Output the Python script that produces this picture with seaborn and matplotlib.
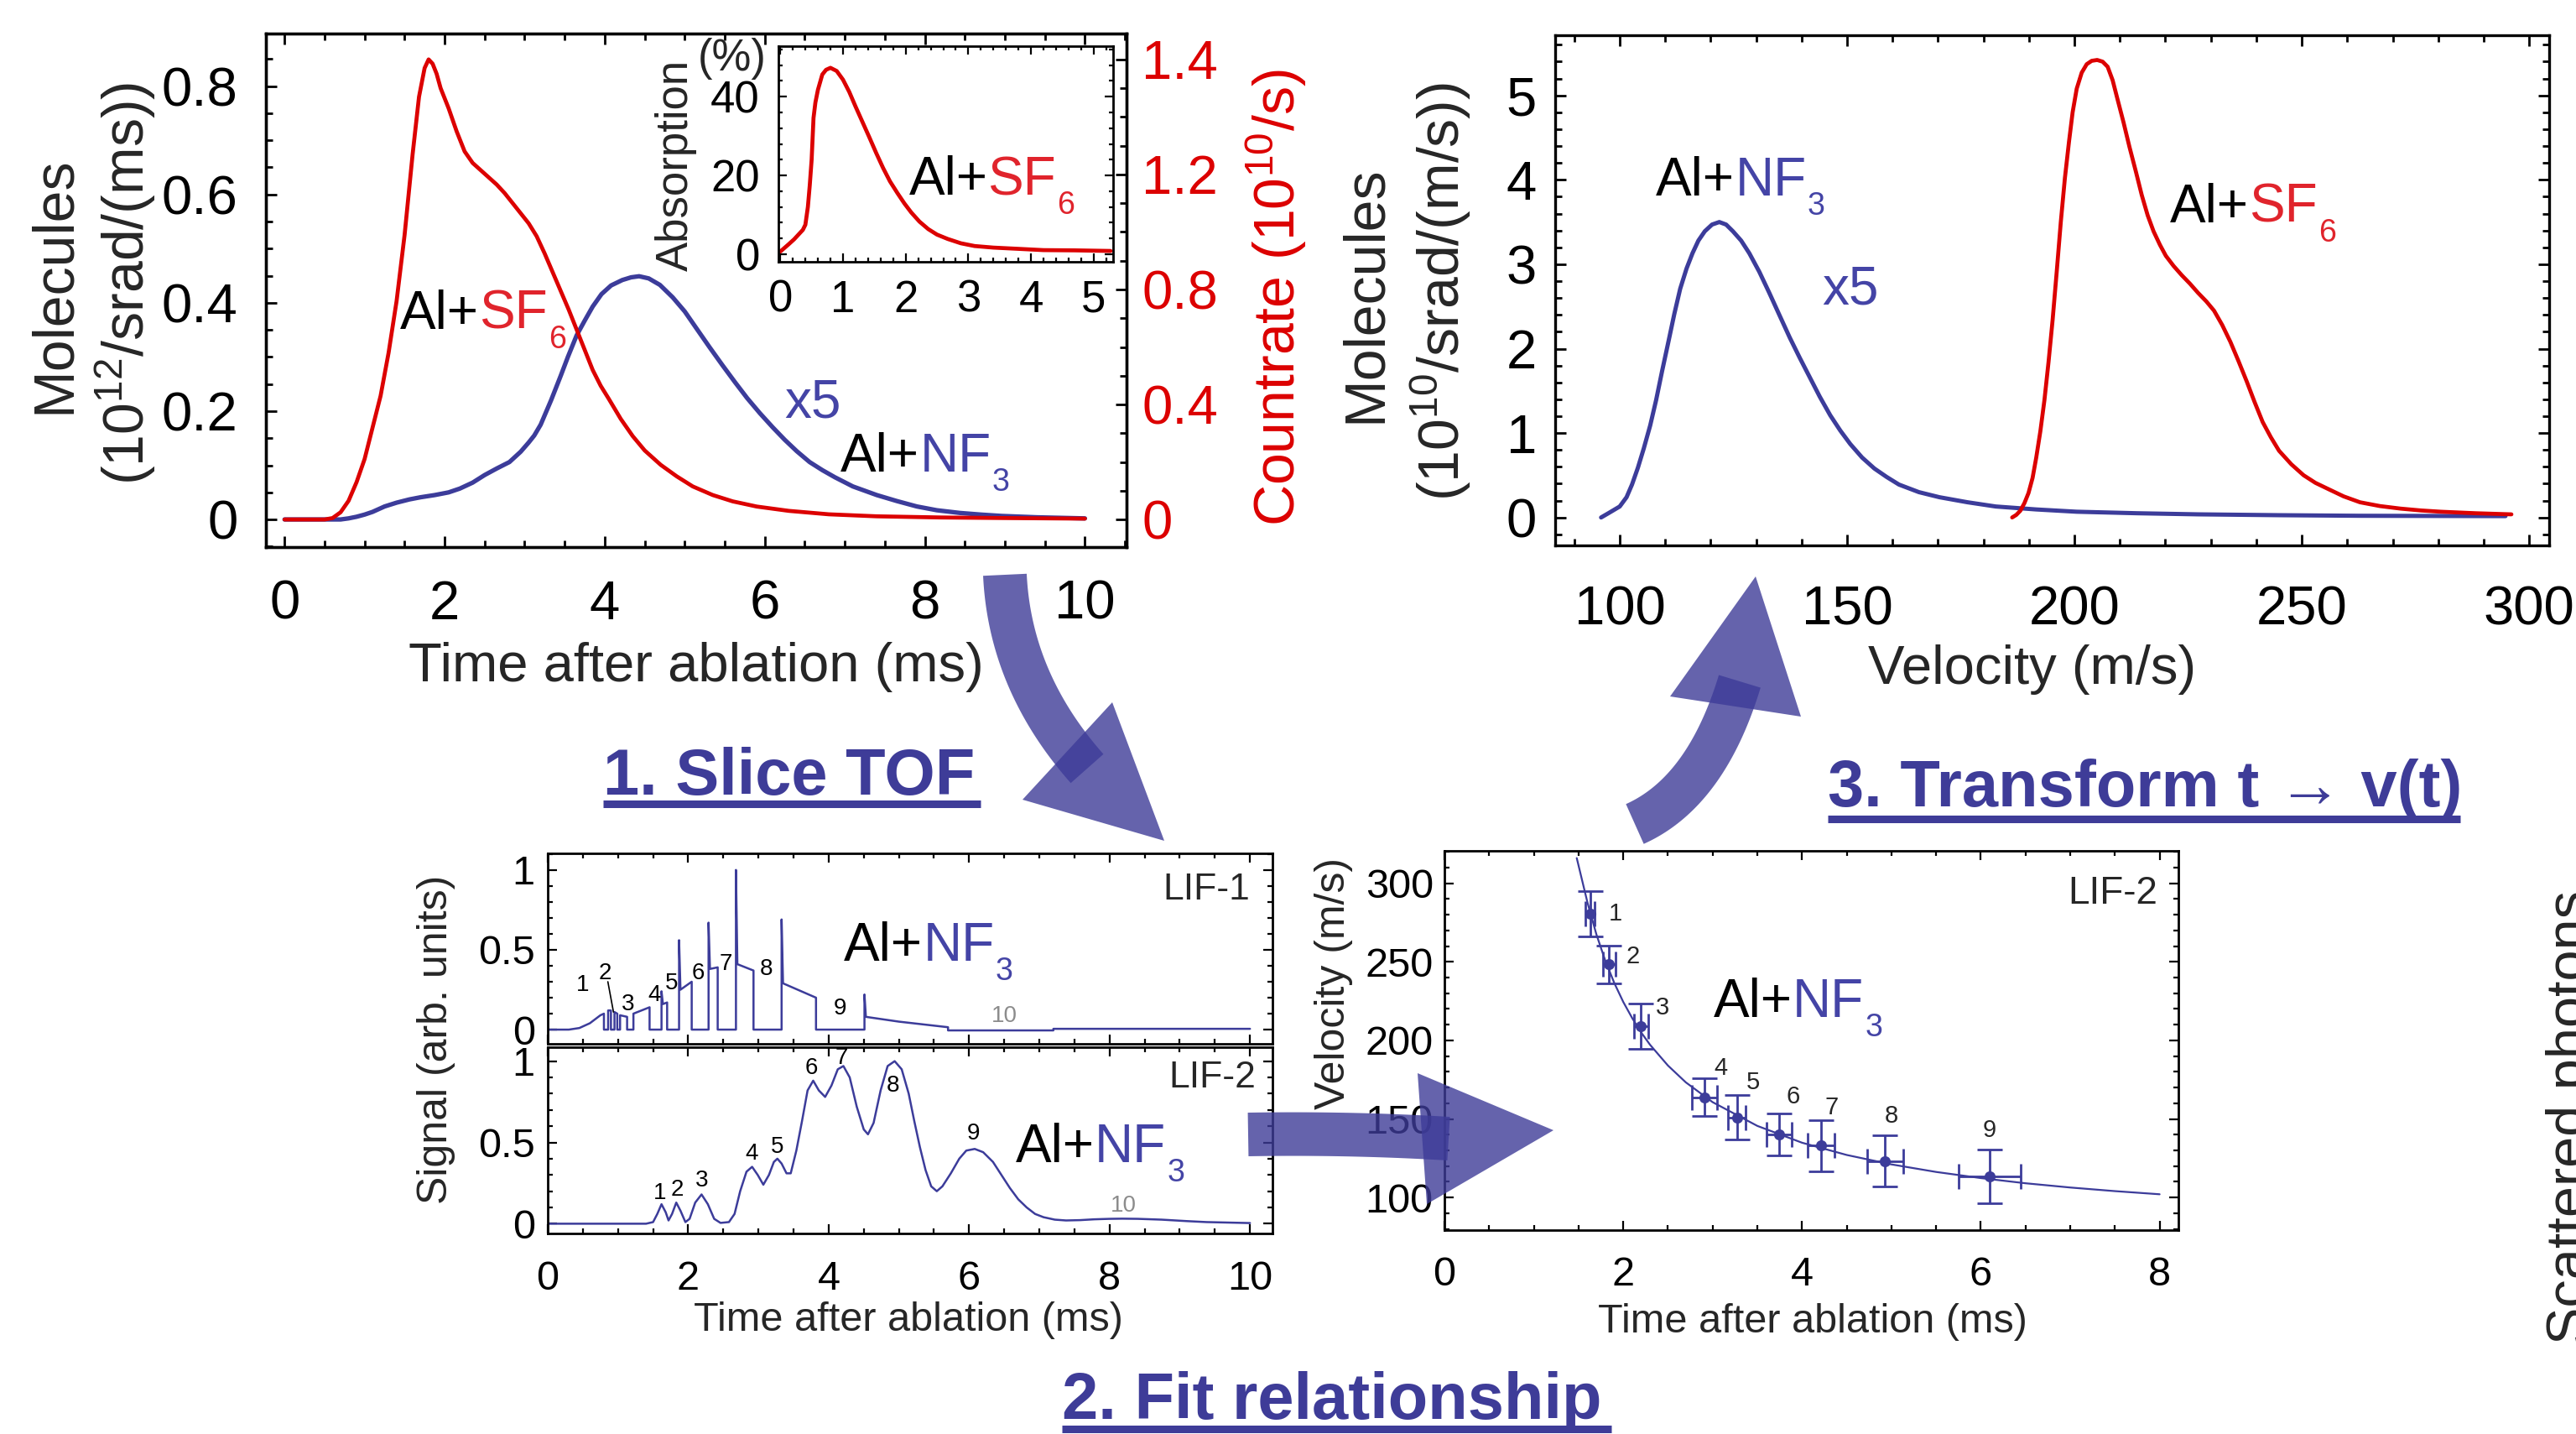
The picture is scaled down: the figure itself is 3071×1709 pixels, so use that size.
import matplotlib
matplotlib.use("Agg")
import numpy as np
import pandas as pd
import matplotlib.pyplot as plt
import seaborn as sns
from matplotlib.patches import Polygon
from matplotlib.lines import Line2D
from matplotlib.ticker import MultipleLocator

# ------------------------------------------------------------------ data
# (a) time-of-flight after ablation
tof_sf6_t = [0, 0.5, 0.6, 0.7, 0.8, 0.9, 1.0, 1.1, 1.2, 1.3, 1.4, 1.5, 1.6, 1.68, 1.75, 1.8, 1.85,
             1.9, 1.95, 2.05, 2.15, 2.25, 2.35, 2.45, 2.55, 2.65, 2.75, 2.85, 2.95, 3.05, 3.15, 3.25,
             3.35, 3.45, 3.55, 3.65, 3.75, 3.85, 3.95, 4.05, 4.2, 4.35, 4.5, 4.7, 4.9, 5.1, 5.35,
             5.6, 5.9, 6.3, 6.8, 7.4, 8.2, 9.0, 10.0]
tof_sf6_rate = [0, 0, 0.005, 0.025, 0.065, 0.13, 0.21, 0.32, 0.43, 0.58, 0.76, 0.99, 1.27, 1.47,
                1.57, 1.60, 1.585, 1.55, 1.50, 1.43, 1.35, 1.28, 1.24, 1.215, 1.19, 1.165, 1.135,
                1.10, 1.065, 1.03, 0.985, 0.925, 0.86, 0.795, 0.73, 0.66, 0.59, 0.52, 0.465, 0.42,
                0.35, 0.29, 0.24, 0.19, 0.15, 0.115, 0.085, 0.063, 0.045, 0.03, 0.018, 0.011,
                0.007, 0.005, 0.003]
tof_nf3_t = [0, 0.7, 0.8, 0.9, 1.0, 1.1, 1.25, 1.4, 1.56, 1.7, 1.875, 2.05, 2.19, 2.35, 2.5, 2.65,
             2.81, 2.95, 3.05, 3.12, 3.2, 3.33, 3.45, 3.54, 3.65, 3.75, 3.85, 3.96, 4.08, 4.22, 4.33,
             4.43, 4.55, 4.69, 4.85, 5.0, 5.15, 5.31, 5.47, 5.63, 5.78, 5.94, 6.1, 6.25, 6.4, 6.56,
             6.72, 6.875, 7.1, 7.4, 7.65, 7.9, 8.15, 8.44, 8.7, 8.96, 9.4, 10.0]
tof_nf3_mol = [0, 0, 0.002, 0.005, 0.009, 0.014, 0.024, 0.031, 0.037, 0.041, 0.045, 0.050, 0.057,
               0.068, 0.082, 0.094, 0.106, 0.125, 0.142, 0.155, 0.175, 0.22, 0.265, 0.30, 0.34,
               0.367, 0.393, 0.416, 0.432, 0.442, 0.447, 0.449, 0.445, 0.433, 0.41, 0.384, 0.352,
               0.318, 0.285, 0.253, 0.224, 0.196, 0.17, 0.147, 0.126, 0.106, 0.091, 0.078, 0.061,
               0.045, 0.034, 0.024, 0.017, 0.012, 0.009, 0.0065, 0.004, 0.002]
# inset: absorption
abs_t = [0.0, 0.13, 0.22, 0.29, 0.36, 0.40, 0.44, 0.47, 0.50, 0.53, 0.56, 0.60, 0.67, 0.73, 0.80,
         0.90, 1.00, 1.10, 1.20, 1.31, 1.42, 1.53, 1.64, 1.75, 1.87, 1.98, 2.09, 2.22, 2.36, 2.50,
         2.67, 2.88, 3.10, 3.40, 3.78, 4.20, 4.70, 5.27]
abs_pct = [0.7, 2.5, 3.8, 5.0, 6.2, 7.5, 12, 17.5, 24, 34.6, 38.5, 41.7, 45.6, 46.8, 47.3, 46.5,
           44.3, 41.2, 37.5, 33.6, 29.7, 25.7, 21.9, 18.5, 15.5, 12.9, 10.6, 8.3, 6.4, 5.0, 3.9,
           2.8, 2.1, 1.7, 1.4, 1.06, 1.0, 0.85]
# (b) velocity distributions
vel_nf3 = [95.9, 97.5, 100, 101.5, 102.7, 104, 105.3, 106.7, 108, 109.3, 110.7, 112, 113.3, 114.7,
           116, 117.3, 118.7, 120.3, 121.9, 123.4, 124.9, 126.7, 128.5, 130.7, 132.9, 135.1, 137.4,
           139.6, 141.8, 144, 146.3, 148.5, 150.7, 153.3, 156, 158.7, 161.4, 165.8, 170.3, 176.5,
           182.7, 191.6, 200.5, 213.8, 227.2, 245, 262.8, 278.8, 294.8]
flux_nf3 = [0, 0.05, 0.13, 0.24, 0.39, 0.59, 0.82, 1.09, 1.39, 1.73, 2.08, 2.41, 2.71, 2.95, 3.13,
            3.28, 3.39, 3.47, 3.5, 3.47, 3.39, 3.28, 3.13, 2.91, 2.66, 2.40, 2.13, 1.89, 1.66, 1.43,
            1.21, 1.03, 0.87, 0.71, 0.58, 0.48, 0.39, 0.30, 0.24, 0.18, 0.13, 0.095, 0.068, 0.05,
            0.037, 0.027, 0.02, 0.018, 0.016]
vel_sf6 = [186.3, 187.2, 188.1, 189, 189.9, 190.8, 191.6, 192.5, 193.4, 194.3, 195.2, 196.1, 197,
           197.9, 198.8, 199.6, 200.5, 201.6, 202.7, 203.8, 205, 206.2, 207.3, 208.4, 209.4, 210.8,
           212.1, 213.5, 214.8, 216.1, 217.4, 218.8, 220.1, 221.8, 223.6, 225.4, 227.2, 229, 230.7,
           232.5, 234.3, 236.1, 237.9, 239.6, 241.4, 243.2, 245, 247.7, 250.4, 253, 255.7, 259.2,
           262.8, 267.2, 271.7, 276.2, 280.6, 288.3, 296.1]
flux_sf6 = [0, 0.03, 0.08, 0.17, 0.29, 0.47, 0.71, 1.02, 1.39, 1.84, 2.34, 2.91, 3.5, 4.02, 4.45,
            4.80, 5.08, 5.27, 5.37, 5.41, 5.42, 5.40, 5.34, 5.18, 4.97, 4.68, 4.39, 4.10, 3.82,
            3.58, 3.39, 3.23, 3.10, 2.98, 2.87, 2.77, 2.66, 2.56, 2.45, 2.28, 2.08, 1.85, 1.61,
            1.37, 1.13, 0.95, 0.79, 0.63, 0.5, 0.41, 0.34, 0.25, 0.18, 0.135, 0.105, 0.083, 0.068,
            0.05, 0.037]
# (c) sliced LIF signals
lif1_t = [0.00, 0.30, 0.45, 0.60, 0.75, 0.80, 0.80, 0.86, 0.86, 0.90, 0.90, 0.95, 0.95, 0.99, 0.99,
          1.03, 1.03, 1.13, 1.13, 1.22, 1.22, 1.45, 1.45, 1.62, 1.62, 1.64, 1.70, 1.70, 1.87, 1.87,
          1.89, 2.05, 2.05, 2.29, 2.29, 2.31, 2.42, 2.42, 2.68, 2.68, 2.70, 2.93, 2.93, 3.33, 3.33,
          3.35, 3.82, 3.82, 4.51, 4.51, 4.53, 5.00, 5.40, 5.70, 5.70, 7.20, 7.20, 10.0]
lif1_sig = [0.00, 0.00, 0.01, 0.04, 0.09, 0.10, 0.00, 0.00, 0.12, 0.12, 0.00, 0.00, 0.11, 0.10, 0.00,
            0.00, 0.09, 0.08, 0.00, 0.00, 0.10, 0.14, 0.00, 0.00, 0.24, 0.16, 0.17, 0.00, 0.00, 0.56,
            0.25, 0.30, 0.00, 0.00, 0.67, 0.38, 0.39, 0.00, 0.00, 1.00, 0.41, 0.37, 0.00, 0.00, 0.69,
            0.29, 0.20, 0.00, 0.00, 0.22, 0.08, 0.05, 0.03, 0.015, -0.005, -0.005, 0.005, 0.005]
lif2_t = [0, 1.40, 1.50, 1.56, 1.62, 1.68, 1.72, 1.77, 1.83, 1.89, 1.96, 2.02, 2.10, 2.19, 2.28,
          2.37, 2.46, 2.58, 2.66, 2.74, 2.83, 2.91, 2.99, 3.07, 3.15, 3.22, 3.27, 3.33, 3.40, 3.46,
          3.54, 3.62, 3.70, 3.78, 3.86, 3.95, 4.04, 4.13, 4.21, 4.30, 4.40, 4.50, 4.56, 4.64, 4.74,
          4.84, 4.94, 5.04, 5.14, 5.22, 5.30, 5.38, 5.46, 5.54, 5.62, 5.74, 5.86, 5.96, 6.08, 6.20,
          6.34, 6.46, 6.58, 6.70, 6.82, 6.94, 7.06, 7.22, 7.38, 7.58, 7.78, 8.00, 8.18, 8.40, 8.74,
          9.10, 9.38, 10.0]
lif2_sig = [0, 0, 0.01, 0.06, 0.12, 0.07, 0.02, 0.06, 0.13, 0.08, 0.01, 0.03, 0.13, 0.18, 0.12,
            0.03, 0.005, 0.01, 0.06, 0.20, 0.32, 0.35, 0.30, 0.24, 0.30, 0.38, 0.40, 0.37, 0.31, 0.31,
            0.45, 0.63, 0.82, 0.88, 0.82, 0.78, 0.85, 0.95, 0.97, 0.90, 0.72, 0.58, 0.55, 0.62, 0.82,
            0.97, 1.00, 0.95, 0.80, 0.63, 0.47, 0.33, 0.23, 0.20, 0.23, 0.31, 0.40, 0.45, 0.46, 0.44,
            0.38, 0.30, 0.22, 0.15, 0.10, 0.06, 0.04, 0.025, 0.02, 0.022, 0.027, 0.03, 0.031, 0.03,
            0.025, 0.016, 0.01, 0.004]
# (d) slice time vs velocity
slice_t = [1.63, 1.84, 2.20, 2.91, 3.27, 3.74, 4.21, 4.93, 6.10]
slice_v = [280.6, 248.3, 208.8, 163.8, 151.1, 140.1, 133.2, 123.2, 113.3]
slice_terr = [0.05, 0.07, 0.08, 0.14, 0.10, 0.14, 0.15, 0.20, 0.35]
slice_verr = [14.4, 12.1, 14.4, 12.0, 13.9, 13.5, 16.3, 16.3, 17.1]
fit_t = [1.48, 1.6, 1.7, 1.8, 1.9, 2.0, 2.1, 2.2, 2.3, 2.5, 2.7, 3.0, 3.5, 4.0, 4.5, 5.0, 5.5,
         6.0, 6.5, 7.0, 7.5, 8.0]
fit_v = [316, 287.7, 267.4, 250.6, 236.5, 224.5, 214.2, 205.1, 197.2, 184, 173.3, 160.7, 145.6,
         134.9, 127.1, 121.1, 116.3, 112.4, 109.1, 106.4, 104.1, 102.1]

# tick labels
a_xticks = [0, 2, 4, 6, 8, 10]
a_yticks = [0, 0.2, 0.4, 0.6, 0.8]
a_yticklabels = ["0", "0.2", "0.4", "0.6", "0.8"]
red_ticks = [0, 0.4, 0.8, 1.2, 1.6]
red_ticklabels = ["0", "0.4", "0.8", "1.2", "1.4"]
inset_xticks = [0, 1, 2, 3, 4, 5]
inset_yticks = [0, 20, 40]
b_xticks = [100, 150, 200, 250, 300]
b_yticks = [0, 1, 2, 3, 4, 5]
c_xticks = [0, 2, 4, 6, 8, 10]
c_yticks = [0, 0.5, 1]
c_yticklabels = ["0", "0.5", "1"]
d_xticks = [0, 2, 4, 6, 8]
d_yticks = [100, 150, 200, 250, 300]
slice_names = ["1", "2", "3", "4", "5", "6", "7", "8", "9", "10"]

# ------------------------------------------------------------------ style
RED = "#dc0000"
RED_T = "#e0242c"
BLUE = "#3c3c9a"
BLUE_T = "#4444a6"
HEAD = "#3e3c98"
GREY = "#8c8c8c"

sns.set_theme(style="white")
plt.rcParams["font.family"] = ["Liberation Sans", "DejaVu Sans"]
plt.rcParams["mathtext.default"] = "regular"
plt.rcParams["axes.unicode_minus"] = False

W, H, DPI = 3071, 1709, 100
fig = plt.figure(figsize=(W / DPI, H / DPI), dpi=DPI)
fig.patch.set_facecolor("white")


def box(L, R, T, B):
    return [L / W, 1 - B / H, (R - L) / W, (B - T) / H]


def fx(x):
    return x / W


def fy(y):
    return 1 - y / H


def style(ax, labelsize, spine_lw, maj, mnr, tw, xpad, ypad):
    for sp in ax.spines.values():
        sp.set_linewidth(spine_lw)
        sp.set_color("black")
        sp.set_visible(True)
    ax.tick_params(which="both", direction="in", top=True, bottom=True, left=True, right=True,
                   width=tw, colors="black", labelsize=labelsize)
    ax.tick_params(which="major", length=maj)
    ax.tick_params(which="minor", length=mnr)
    ax.tick_params(axis="x", which="both", pad=xpad)
    ax.tick_params(axis="y", which="both", pad=ypad)
    ax.grid(False)
    ax.set_xlabel("")
    ax.set_ylabel("")
    ax.set_facecolor("white")


def chem(ax, x, y, formula, sub, color, size=46, subsize=27, drop=13):
    t1 = ax.text(x, y, "Al+", fontsize=size, color="black", ha="left", va="baseline")
    t2 = ax.annotate(formula, xy=(1, 0), xycoords=t1, fontsize=size, color=color,
                     ha="left", va="bottom")
    ax.annotate(sub, xy=(1, 0), xycoords=t2, xytext=(1, -drop), textcoords="offset points",
                fontsize=subsize, color=color, ha="left", va="bottom")


def line(ax, x, y, color, lw):
    df = pd.DataFrame({"x": x, "y": y})
    sns.lineplot(data=df, x="x", y="y", ax=ax, color=color, linewidth=lw,
                 estimator=None, sort=False, legend=False)


# ------------------------------------------------------------------ panel A (TOF)
axA = fig.add_axes(box(317, 1343, 40, 652))
axR = axA.twinx()
line(axA, tof_nf3_t, tof_nf3_mol, BLUE, 3.8)
line(axR, tof_sf6_t, tof_sf6_rate, RED, 3.4)
axA.set_xlim(-0.233, 10.52)
axA.set_ylim(-0.051, 0.897)
axR.set_ylim(-0.096, 1.69)
style(axA, 47, 2.4, 9.5, 5.5, 2, 28, 24)
style(axR, 47, 2.4, 9.5, 5.5, 2, 28, 13)
axA.set_xticks(a_xticks, labels=[str(v) for v in a_xticks])
axA.xaxis.set_minor_locator(MultipleLocator(0.5))
axA.set_yticks(a_yticks, labels=a_yticklabels)
axA.yaxis.set_minor_locator(MultipleLocator(0.05))
axA.tick_params(which="both", right=False, labelright=False)
axR.set_yticks(red_ticks, labels=red_ticklabels)
axR.yaxis.set_minor_locator(MultipleLocator(0.1))
axR.tick_params(which="both", left=False, labelleft=False, right=True, labelright=True)
axR.tick_params(axis="y", labelcolor=RED)
axR.patch.set_visible(False)
chem(axA, 1.44, 0.352, "SF", "6", RED_T)
axA.text(6.25, 0.188, "x5", fontsize=46, color=BLUE_T, ha="left", va="baseline")
chem(axA, 6.95, 0.088, "NF", "3", BLUE_T)

fig.text(fx(65), fy(340), "Molecules", rotation=90, ha="center", va="center", fontsize=49)
fig.text(fx(150), fy(338), r"(10$^{12}$/srad/(ms))", rotation=90, ha="center", va="center",
         fontsize=49)
fig.text(fx(1522), fy(355), r"Countrate (10$^{10}$/s)", rotation=90, ha="center", va="center",
         fontsize=49, color=RED)
fig.text(fx(830), fy(795), "Time after ablation (ms)", ha="center", va="center", fontsize=47)

# inset
axI = fig.add_axes(box(928, 1327, 55, 312))
line(axI, abs_t, abs_pct, RED, 3.4)
axI.set_xlim(-0.03, 5.31)
axI.set_ylim(-1.9, 52.8)
style(axI, 38, 2.0, 7, 3.8, 1.6, 15, 16)
axI.set_xticks(inset_xticks, labels=[str(v) for v in inset_xticks])
axI.xaxis.set_minor_locator(MultipleLocator(0.2))
axI.set_yticks(inset_yticks, labels=[str(v) for v in inset_yticks])
axI.yaxis.set_minor_locator(MultipleLocator(4))
chem(axI, 2.05, 15.1, "SF", "6", RED_T)
fig.text(fx(806), fy(197), "Absorption", rotation=90, ha="center", va="center", fontsize=38)
fig.text(fx(914), fy(70), "(%)", ha="right", va="center", fontsize=38)

# ------------------------------------------------------------------ panel B (velocity)
axB = fig.add_axes(box(1854, 3039, 42, 650))
line(axB, vel_nf3, flux_nf3, BLUE, 3.6)
line(axB, vel_sf6, flux_sf6, RED, 3.4)
axB.set_xlim(85.8, 304.4)
axB.set_ylim(-0.331, 5.713)
style(axB, 47, 2.4, 9.5, 6, 2, 34, 16)
axB.set_xticks(b_xticks, labels=[str(v) for v in b_xticks])
axB.xaxis.set_minor_locator(MultipleLocator(10))
axB.set_yticks(b_yticks, labels=[str(v) for v in b_yticks])
axB.yaxis.set_minor_locator(MultipleLocator(0.2))
chem(axB, 108, 3.81, "NF", "3", BLUE_T)
axB.text(144.5, 2.53, "x5", fontsize=46, color=BLUE_T, ha="left", va="baseline")
chem(axB, 221, 3.5, "SF", "6", RED_T)
fig.text(fx(1628), fy(351), "Molecules", rotation=90, ha="center", va="center", fontsize=49)
fig.text(fx(1718), fy(348), r"(10$^{10}$/srad/(m/s))", rotation=90, ha="center", va="center",
         fontsize=49)
fig.text(fx(2423), fy(798), "Velocity (m/s)", ha="center", va="center", fontsize=47)

# ------------------------------------------------------------------ panel C (LIF slices)
axC1 = fig.add_axes(box(653, 1517, 1017, 1244))
axC2 = fig.add_axes(box(653, 1517, 1248, 1470))
line(axC1, lif1_t, lif1_sig, BLUE, 1.8)
line(axC2, lif2_t, lif2_sig, BLUE, 1.8)
for ax, yl in ((axC1, (-0.089, 1.104)), (axC2, (-0.06, 1.086))):
    ax.set_xlim(0, 10.32)
    ax.set_ylim(*yl)
    style(ax, 35, 2.0, 8, 4.5, 1.6, 23, 11)
    ax.set_xticks(c_xticks, labels=[str(v) for v in c_xticks])
    ax.xaxis.set_minor_locator(MultipleLocator(0.5))
    ax.set_yticks(c_yticks, labels=c_yticklabels)
    ax.yaxis.set_minor_locator(MultipleLocator(0.1))
axC1.tick_params(labelbottom=False)

lif1_lab_t = [0.50, 0.82, 1.14, 1.52, 1.76, 2.14, 2.54, 3.11, 4.16, 6.50]
lif1_lab_v = [0.28, 0.35, 0.16, 0.215, 0.29, 0.355, 0.41, 0.38, 0.13, 0.084]
for i, (tt, vv) in enumerate(zip(lif1_lab_t, lif1_lab_v)):
    axC1.text(tt, vv, slice_names[i], fontsize=20, ha="center", va="center",
              color=GREY if i == 9 else "black")
axC1.plot([0.856, 0.936], [0.30, 0.11], color="black", lw=1.2)
lif2_lab_t = [1.60, 1.84, 2.19, 2.90, 3.27, 3.75, 4.19, 4.92, 6.06, 8.20]
lif2_lab_v = [0.19, 0.21, 0.265, 0.43, 0.47, 0.955, 1.02, 0.85, 0.555, 0.108]
for i, (tt, vv) in enumerate(zip(lif2_lab_t, lif2_lab_v)):
    axC2.text(tt, vv, slice_names[i], fontsize=20, ha="center", va="center",
              color=GREY if i == 9 else "black")
chem(axC1, 4.22, 0.43, "NF", "3", BLUE_T)
chem(axC2, 6.66, 0.377, "NF", "3", BLUE_T)
axC1.text(10.0, 0.815, "LIF-1", fontsize=32, ha="right", va="baseline")
axC2.text(10.08, 0.837, "LIF-2", fontsize=32, ha="right", va="baseline")
fig.text(fx(520), fy(1239), "Signal (arb. units)", rotation=90, ha="center", va="center",
         fontsize=36)
fig.text(fx(1083), fy(1574), "Time after ablation (ms)", ha="center", va="center", fontsize=35)

# ------------------------------------------------------------------ panel D (fit)
axD = fig.add_axes(box(1722, 2597, 1014, 1466))
line(axD, fit_t, fit_v, BLUE, 1.6)
axD.errorbar(slice_t, slice_v, xerr=slice_terr, yerr=slice_verr, fmt="none", ecolor=BLUE,
             elinewidth=2.0, capsize=11, capthick=2.0, zorder=3)
sns.scatterplot(x=slice_t, y=slice_v, ax=axD, color=BLUE, s=90, edgecolor=BLUE, linewidth=0,
                zorder=4, legend=False)
axD.set_xlim(0, 8.21)
axD.set_ylim(79.3, 320.6)
style(axD, 35, 2.0, 8, 4.5, 1.6, 22, 9.5)
axD.set_xticks(d_xticks, labels=[str(v) for v in d_xticks])
axD.xaxis.set_minor_locator(MultipleLocator(0.5))
axD.set_yticks(d_yticks, labels=[str(v) for v in d_yticks])
axD.yaxis.set_minor_locator(MultipleLocator(10))
d_lab_t = [1.91, 2.11, 2.44, 3.09, 3.45, 3.90, 4.33, 5.00, 6.10]
d_lab_v = [280.6, 253.5, 220.8, 182.4, 173.3, 164.4, 157.0, 151.7, 142.7]
for i, (tt, vv) in enumerate(zip(d_lab_t, d_lab_v)):
    axD.text(tt, vv, slice_names[i], fontsize=21, ha="center", va="center")
chem(axD, 3.01, 215.1, "NF", "3", BLUE_T)
axD.text(7.98, 286.9, "LIF-2", fontsize=33, ha="right", va="baseline")
fig.text(fx(1590), fy(1172), "Velocity (m/s)", rotation=90, ha="center", va="center",
         fontsize=36)
fig.text(fx(2161), fy(1575), "Time after ablation (ms)", ha="center", va="center", fontsize=35)

# ------------------------------------------------------------------ headings
heads = [("1. Slice TOF", 719, 947, 1169, 958),
         ("2. Fit relationship", 1266, 1691, 1921, 1703),
         ("3. Transform t \u2192 v(t)", 2179, 961, 2933, 976)]
for txt, x0, yb, x1, yu in heads:
    fig.text(fx(x0), fy(yb), txt, fontsize=56, fontweight="bold", color=HEAD,
             ha="left", va="baseline")
    fig.add_artist(Line2D([fx(x0), fx(x1)], [fy(yu), fy(yu)], transform=fig.transFigure,
                          color=HEAD, lw=6.5, solid_capstyle="butt"))

fig.text(fx(3035), fy(1602), "Scattered photons", rotation=90, ha="left", va="bottom",
         fontsize=48)


# ------------------------------------------------------------------ arrows (decoration)
def band(P0, P1, P2, w, n=60):
    P0, P1, P2 = map(np.asarray, (P0, P1, P2))
    s = np.linspace(0, 1, n)[:, None]
    B = (1 - s) ** 2 * P0 + 2 * (1 - s) * s * P1 + s ** 2 * P2
    D = 2 * (1 - s) * (P1 - P0) + 2 * s * (P2 - P1)
    D = D / np.linalg.norm(D, axis=1, keepdims=True)
    N = np.column_stack([-D[:, 1], D[:, 0]])
    left = B + N * w / 2
    right = B - N * w / 2
    return np.vstack([left, right[::-1]])


def to_fig(pts):
    pts = np.asarray(pts, dtype=float)
    return np.column_stack([pts[:, 0] / W, 1 - pts[:, 1] / H])


arrows = [
    (((1198, 685), (1204, 812), (1296, 916)), [(1219, 953), (1326, 837), (1388, 1002)]),
    (((1488, 1352), (1610, 1350), (1727, 1357)), [(1690, 1279), (1701, 1435), (1852, 1347)]),
    (((1949, 982), (2034, 944), (2074, 812)), [(1991, 830), (2147, 854), (2093, 687)]),
]
for (p0, p1, p2), head in arrows:
    for poly in (band(p0, p1, p2, 52), np.asarray(head, dtype=float)):
        fig.add_artist(Polygon(to_fig(poly), closed=True, transform=fig.transFigure,
                               facecolor=HEAD, edgecolor="none", alpha=0.8, zorder=5))

fig.savefig("out.png", dpi=DPI)
